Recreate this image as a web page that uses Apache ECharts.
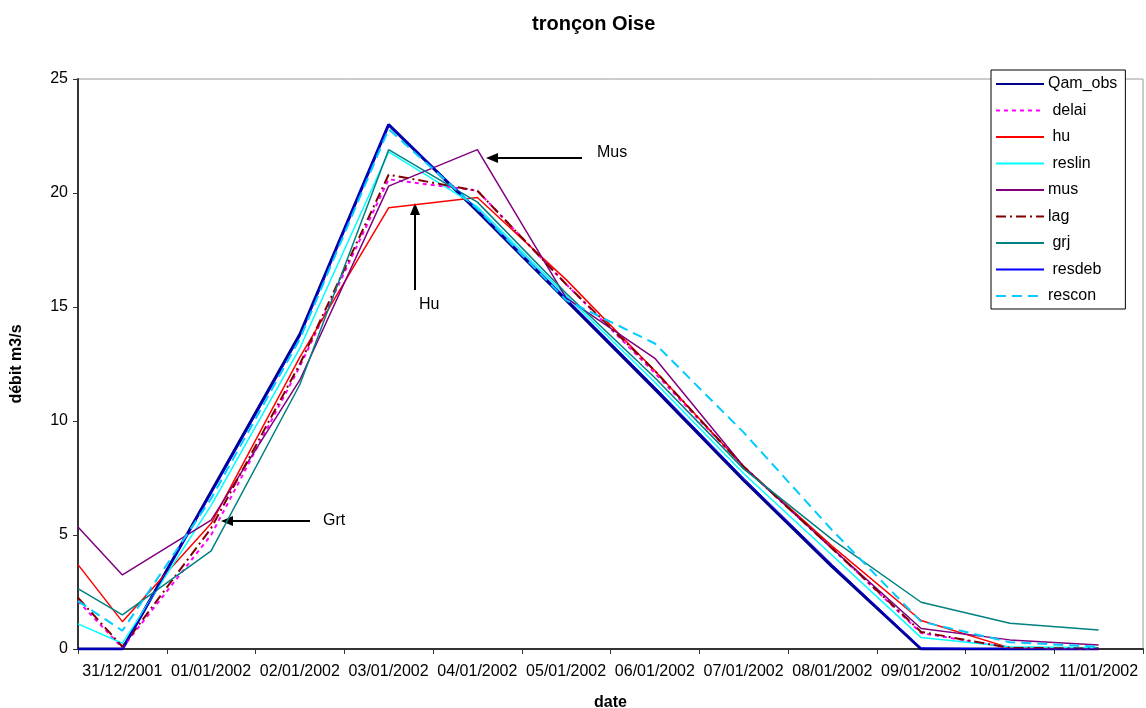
<!DOCTYPE html>
<html>
<head>
<meta charset="utf-8">
<title>tronçon Oise</title>
<script src="https://cdn.jsdelivr.net/npm/echarts@6/dist/echarts.min.js"></script>
<style>
  html, body { margin: 0; padding: 0; background: #fff; }
  #chart { width: 1146px; height: 708px; }
</style>
</head>
<body>
<div id="chart"></div>
<script>
// categories on the axis (one per day)
let dates = ['31/12/2001', '01/01/2002', '02/01/2002', '03/01/2002', '04/01/2002', '05/01/2002',
  '06/01/2002', '07/01/2002', '08/01/2002', '09/01/2002', '10/01/2002', '11/01/2002'];
// position of each data point in days (first value is half a day before 31/12)
let dayPos = [-0.5, 0, 1, 2, 3, 4, 5, 6, 7, 8, 9, 10, 11];

// flows in m3/s
let qamObs = [0, 0, 6.9, 13.8, 23.0, 19.2, 15.3, 11.4, 7.4, 3.6, 0, 0, 0];
let delai  = [2.1, 0.05, 5.0, 12.4, 20.6, 20.1, 16.0, 12.1, 8.0, 4.4, 0.7, 0.05, 0.02];
let hu     = [3.7, 1.2, 5.5, 12.8, 19.35, 19.8, 16.2, 12.2, 8.0, 4.5, 1.25, 0.05, 0.03];
let reslin = [1.1, 0.25, 6.3, 13.2, 21.8, 19.4, 15.5, 11.7, 7.7, 4.1, 0.5, 0.1, 0.05];
let mus    = [5.35, 3.25, 5.65, 11.8, 20.3, 21.9, 15.4, 12.75, 8.0, 4.4, 0.9, 0.4, 0.18];
let lag    = [2.25, 0.1, 5.3, 12.5, 20.8, 20.1, 16.0, 12.2, 8.0, 4.4, 0.75, 0.05, 0.02];
let grj    = [2.65, 1.5, 4.3, 11.6, 21.9, 19.6, 15.6, 11.9, 7.9, 4.8, 2.05, 1.13, 0.83];
let resdeb = [0, 0, 6.8, 13.7, 23.0, 19.3, 15.4, 11.5, 7.5, 3.7, 0.05, 0, 0];
let rescon = [2.1, 0.8, 6.6, 13.6, 22.8, 19.3, 15.3, 13.4, 9.5, 5.2, 1.2, 0.3, 0.1];

let yTicks = [0, 5, 10, 15, 20, 25];

const FONT = '"Liberation Sans", Arial, sans-serif';

function pairs(values){
  let out = [];
  for(let i = 0; i < values.length; i++){
    out.push([dayPos[i], values[i]]);
  }
  return out;
}

function mkSeries(name, values, color, width, type){
  return {
    name: name,
    type: 'line',
    xAxisIndex: 1,
    data: pairs(values),
    symbol: 'none',
    showSymbol: false,
    animation: false,
    lineStyle: { color: color, width: width, type: type || 'solid' },
    itemStyle: { color: color }
  };
}

let series = [
  mkSeries('Qam_obs', qamObs, '#00008B', 3),
  mkSeries(' delai', delai, '#FF00FF', 2, [4, 4]),
  mkSeries(' hu', hu, '#FF0000', 1.5),
  mkSeries(' reslin', reslin, '#00FFFF', 1.5),
  mkSeries('mus', mus, '#800080', 1.5),
  mkSeries('lag', lag, '#800000', 2, [10, 4, 2, 4]),
  mkSeries(' grj', grj, '#008080', 1.5),
  mkSeries(' resdeb', resdeb, '#0000FF', 1),
  mkSeries('rescon', rescon, '#00CCFF', 2, [10, 6])
];

function arrow(x1, y1, x2, y2){
  // line from (x1,y1) to the tip (x2,y2), filled head at the tip
  let dx = x2 - x1, dy = y2 - y1;
  let len = Math.sqrt(dx * dx + dy * dy);
  let ux = dx / len, uy = dy / len;
  let hl = 12, hw = 5;
  let bx = x2 - ux * hl, by = y2 - uy * hl;
  return [
    { type: 'line', shape: { x1: x1, y1: y1, x2: bx, y2: by }, style: { stroke: '#000', lineWidth: 2 } },
    { type: 'polygon', shape: { points: [[x2, y2], [bx - uy * hw, by + ux * hw], [bx + uy * hw, by - ux * hw]] },
      style: { fill: '#000' } }
  ];
}

function note(x, y, txt){
  return { type: 'text', x: x, y: y,
    style: { text: txt, font: '16px ' + FONT, fill: '#000', verticalAlign: 'middle' } };
}

let graphics = []
  .concat(arrow(582, 158, 486, 158))
  .concat(arrow(415, 290, 415, 203))
  .concat(arrow(310, 521, 221, 521))
  .concat([note(597, 153, 'Mus'), note(419, 305, 'Hu'), note(323, 521, 'Grt')]);

let chart = echarts.init(document.getElementById('chart'));

let opt = {
  backgroundColor: '#fff',
  animation: false,
  title: {
    text: 'tronçon Oise',
    left: 527,
    top: 9,
    textStyle: { fontFamily: FONT, fontSize: 20, fontWeight: 'bold', color: '#000' }
  },
  legend: {
    orient: 'vertical',
    left: 991,
    top: 70,
    padding: [6, 8, 5, 4],
    itemGap: 10.5,
    itemWidth: 48,
    itemHeight: 14,
    backgroundColor: '#fff',
    borderColor: '#000',
    borderWidth: 1,
    borderRadius: 0,
    itemStyle: { opacity: 0 },
    textStyle: { fontFamily: FONT, fontSize: 16, color: '#000', padding: [0, 0, 0, -1] },
    data: series.map(function(s){ return s.name; })
  },
  grid: {
    left: 78, right: 3, top: 79, bottom: 59,
    outerBoundsMode: 'none',
    containLabel: false,
    show: true,
    borderColor: '#999',
    borderWidth: 1
  },
  xAxis: [
    {
      type: 'category',
      data: dates,
      boundaryGap: true,
      name: 'date',
      nameLocation: 'middle',
      nameGap: 46,
      nameTextStyle: { fontFamily: FONT, fontSize: 16, fontWeight: 'bold', color: '#000' },
      axisLine: { lineStyle: { color: '#333', width: 2 } },
      axisTick: { show: true, length: 5, lineStyle: { color: '#333', width: 1 } },
      axisLabel: { fontFamily: FONT, fontSize: 16, color: '#000', margin: 15, interval: 0 },
      splitLine: { show: false }
    },
    {
      type: 'value',
      min: -0.5,
      max: 11.5,
      show: false
    }
  ],
  yAxis: {
    type: 'value',
    min: 0,
    max: 25,
    interval: 5,
    name: 'débit m3/s',
    nameLocation: 'middle',
    nameRotate: 90,
    nameGap: 53,
    nameTextStyle: { fontFamily: FONT, fontSize: 16, fontWeight: 'bold', color: '#000' },
    axisLine: { show: true, onZero: false, lineStyle: { color: '#333', width: 2 } },
    axisTick: { show: true, length: 5, lineStyle: { color: '#333', width: 1 } },
    axisLabel: {
      fontFamily: FONT, fontSize: 16, color: '#000', margin: 10,
      formatter: function(v){ return yTicks.indexOf(v) >= 0 ? String(v) : ''; }
    },
    splitLine: { show: false }
  },
  series: series,
  graphic: graphics
};
chart.setOption(opt);
</script>
</body>
</html>
